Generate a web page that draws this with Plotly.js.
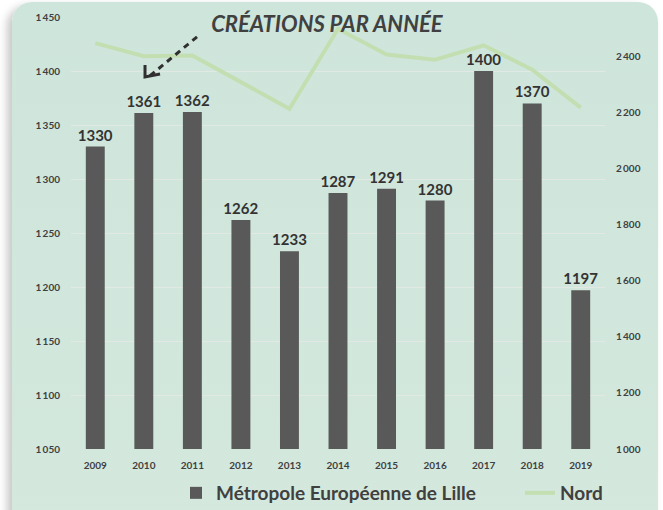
<!DOCTYPE html>
<html>
<head>
<meta charset="utf-8">
<script src="https://cdn.plot.ly/plotly-3.0.1.min.js"></script>
<style>
  html, body { margin: 0; padding: 0; background: #ffffff; width: 663px; height: 510px; overflow: hidden; }
  #card { position: absolute; left: 12px; top: 2px; width: 646px; height: 530px; border-radius: 20px;
          background: linear-gradient(180deg, #cee5db 0%, #d4e8dd 100%);
          box-shadow: -5px 4px 8px rgba(0,0,0,0.22); }
  #chart { position: absolute; left: 0; top: 0; width: 663px; height: 510px; }
</style>
</head>
<body>
<div id="card"></div>
<div id="chart"></div>
<script>
const years = ['2009','2010','2011','2012','2013','2014','2015','2016','2017','2018','2019'];
const metropoleLille = [1330,1361,1362,1262,1233,1287,1291,1280,1400,1370,1197];
const nord = [2447,2400,2403,2309,2213,2498,2406,2388,2439,2352,2217];
const leftTicks = [1050,1100,1150,1200,1250,1300,1350,1400,1450];
const rightTicks = [1000,1200,1400,1600,1800,2000,2200,2400];
const seriesNames = ['Métropole Européenne de Lille', 'Nord'];
const chartTitle = 'CRÉATIONS PAR ANNÉE';

const fmt = v => { const s = String(v); return s.length > 3 ? s.slice(0, s.length-3) + '\u2009' + s.slice(-3) : s; };

const traces = [
  {
    type: 'bar', name: seriesNames[0], x: years, y: metropoleLille, legend: 'legend',
    marker: { color: '#595959' },
    text: metropoleLille.map(String), textposition: 'outside', cliponaxis: false, constraintext: 'none',
    textfont: { family: 'Lato, sans-serif', size: 15, color: '#333333', weight: 700 },
    hoverinfo: 'x+y'
  },
  {
    type: 'scatter', mode: 'lines', name: seriesNames[1], x: years, y: nord, yaxis: 'y2', legend: 'legend2',
    line: { color: '#c3dfb2', width: 4 },
    hoverinfo: 'x+y'
  }
];

const legendFont = { family: 'Lato, sans-serif', size: 19, color: '#404040', weight: 700 };

const layout = {
  width: 663, height: 510,
  paper_bgcolor: 'rgba(0,0,0,0)', plot_bgcolor: 'rgba(0,0,0,0)',
  margin: { l: 71, r: 58, t: 17, b: 61 },
  bargap: 0.61,
  showlegend: true,
  font: { family: 'Lato, sans-serif', color: '#404040' },
  title: {
    text: chartTitle, x: 0.493, xanchor: 'center', y: 1 - 24/510, yanchor: 'middle',
    font: { family: 'Lato, sans-serif', size: 22, color: '#404040', style: 'italic', weight: 700 }
  },
  xaxis: {
    type: 'category', showgrid: false, zeroline: false, showline: false, ticks: '',
    tickfont: { family: 'Lato, sans-serif', size: 10, color: '#404040', weight: 700 },
    ticklabelstandoff: 9, fixedrange: true
  },
  yaxis: {
    range: [1050, 1450], tickvals: leftTicks, ticktext: leftTicks.map(fmt),
    showgrid: true, gridcolor: '#e2e9e4', gridwidth: 1, zeroline: false, showline: false, ticks: '',
    tickfont: { family: 'Lato, sans-serif', size: 10, color: '#404040', weight: 700 },
    ticklabelstandoff: 10
  },
  yaxis2: {
    overlaying: 'y', side: 'right', range: [1000, 2540], tickvals: rightTicks, ticktext: rightTicks.map(fmt),
    showgrid: false, zeroline: false, showline: false, ticks: '',
    tickfont: { family: 'Lato, sans-serif', size: 10, color: '#404040', weight: 700 },
    ticklabelstandoff: 10
  },
  legend: {
    orientation: 'h', xref: 'container', yref: 'container',
    x: 176/663, xanchor: 'left', y: 1 - 493/510, yanchor: 'middle',
    font: legendFont, bgcolor: 'rgba(0,0,0,0)'
  },
  legend2: {
    orientation: 'h', xref: 'container', yref: 'container',
    x: 520/663, xanchor: 'left', y: 1 - 493/510, yanchor: 'middle',
    font: legendFont, bgcolor: 'rgba(0,0,0,0)'
  },
  shapes: [
    { type: 'line', xref: 'paper', yref: 'paper', x0: 0.236, y0: 0.954, x1: 0.148, y1: 0.864,
      line: { color: '#303030', width: 3, dash: '6px,5px' } },
    { type: 'path', xref: 'paper', yref: 'paper',
      path: 'M0.1386,0.8889 L0.1386,0.8611 L0.1667,0.8681',
      line: { color: '#303030', width: 3 } }
  ]
};

Plotly.newPlot('chart', traces, layout, { displayModeBar: false, staticPlot: true });
</script>
</body>
</html>
